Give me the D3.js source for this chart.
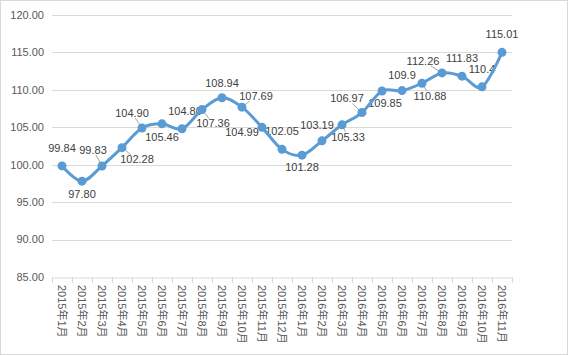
<!DOCTYPE html>
<html><head><meta charset="utf-8">
<script src="https://cdn.jsdelivr.net/npm/d3@7"></script>
<style>body{margin:0;background:#fff}svg{display:block}text{font-family:"Liberation Sans","Noto Sans CJK SC",sans-serif}</style>
</head><body>
<svg id="c" width="569" height="356"></svg>
<script>
const categories = ["2015年1月","2015年2月","2015年3月","2015年4月","2015年5月","2015年6月","2015年7月","2015年8月","2015年9月","2015年10月","2015年11月","2015年12月","2016年1月","2016年2月","2016年3月","2016年4月","2016年5月","2016年6月","2016年7月","2016年8月","2016年9月","2016年10月","2016年11月"];
const values = [99.84,97.80,99.83,102.28,104.90,105.46,104.80,107.36,108.94,107.69,104.99,102.05,101.28,103.19,105.33,106.97,109.85,109.9,110.88,112.26,111.83,110.4,115.01];
const valueLabels = ["99.84","97.80","99.83","102.28","104.90","105.46","104.80","107.36","108.94","107.69","104.99","102.05","101.28","103.19","105.33","106.97","109.85","109.9","110.88","112.26","111.83","110.4","115.01"];
const yTicks = [85,90,95,100,105,110,115,120];
// label placement offsets (dx, dy) relative to each point, in px
const labelOffsets = [[0,-18],[0,13],[-9,-16],[15,12],[-10,-15],[0,13],[3,-18],[11,14],[0,-15],[14,-11],[-20,5],[0,-18],[0,12],[-5,-16],[6,12],[-15,-14],[3,12],[0,-15],[8,13],[-19,-12],[0,-18],[0,-18],[0,-18]];

const svg = d3.select("#c");
svg.append("rect").attr("x",0.5).attr("y",0.5).attr("width",567).attr("height",354)
  .attr("fill","#fff").attr("stroke","#D9D9D9");

const L=52,R=512,T=15,B=277;
const x = d3.scaleBand().domain(categories).range([L,R]);
const y = d3.scaleLinear().domain([85,120]).range([B,T]);

// gridlines
svg.append("g").selectAll("line").data(yTicks.slice(1)).join("line")
  .attr("x1",L).attr("x2",R).attr("y1",d=>Math.round(y(d))+0.5).attr("y2",d=>Math.round(y(d))+0.5)
  .attr("stroke","#D9D9D9").attr("stroke-width",1);

// y axis labels
svg.append("g").selectAll("text").data(yTicks).join("text")
  .attr("x",44).attr("y",d=>y(d)).attr("dy","0.35em").attr("text-anchor","end")
  .attr("font-size",11).attr("fill","#595959").text(d=>d.toFixed(2));

// x axis
const xa = svg.append("g").attr("transform",`translate(0,${Math.round(B)+0.5})`)
  .call(d3.axisBottom(x).tickSize(0).tickFormat(""));
xa.select(".domain").attr("stroke","#D9D9D9");
const bounds = categories.map(c=>x(c)).concat([R]);
svg.append("g").selectAll("line").data(bounds).join("line")
  .attr("x1",d=>Math.round(d)+0.5).attr("x2",d=>Math.round(d)+0.5)
  .attr("y1",Math.round(B)).attr("y2",Math.round(B)+6).attr("stroke","#D9D9D9");
svg.append("g").selectAll("text").data(categories).join("text")
  .attr("transform",d=>`translate(${x(d)+x.bandwidth()/2},${B+8}) rotate(90)`)
  .attr("dy","0.35em").attr("text-anchor","start").attr("font-size",11).attr("fill","#595959")
  .text(d=>d);

const cx = i=>x(categories[i])+x.bandwidth()/2;
const line = d3.line().x((d,i)=>cx(i)).y(d=>y(d)).curve(d3.curveCatmullRom.alpha(0));

// labels and leader lines
const lg = svg.append("g");
valueLabels.forEach((t,i)=>{
  const px=cx(i), py=y(values[i]);
  const [dx,dy]=labelOffsets[i];
  const tx=px+dx, ty=py+dy;
  const txt = lg.append("text").attr("x",tx).attr("y",ty).attr("dy","0.35em").attr("text-anchor","middle")
    .attr("font-size",11).attr("fill","#404040").text(t);
  if (Math.abs(dx)>5){
    const bb = txt.node().getBBox();
    const hw=bb.width/2+1, hh=bb.height/2-1;
    const vx=px-tx, vy=py-ty;
    const s = Math.min(hw/Math.abs(vx||1e-6), hh/Math.abs(vy||1e-6));
    const sx=tx+vx*s, sy=ty+vy*s;
    lg.append("line").attr("x1",sx).attr("y1",sy).attr("x2",px).attr("y2",py)
      .attr("stroke","#A6A6A6").attr("stroke-width",1);
  }
});

svg.append("path").datum(values).attr("d",line).attr("fill","none")
  .attr("stroke","#5B9BD5").attr("stroke-width",3).attr("stroke-linecap","round");
svg.append("g").selectAll("circle").data(values).join("circle")
  .attr("cx",(d,i)=>cx(i)).attr("cy",d=>y(d)).attr("r",4.5).attr("fill","#5B9BD5");
</script>
</body></html>
